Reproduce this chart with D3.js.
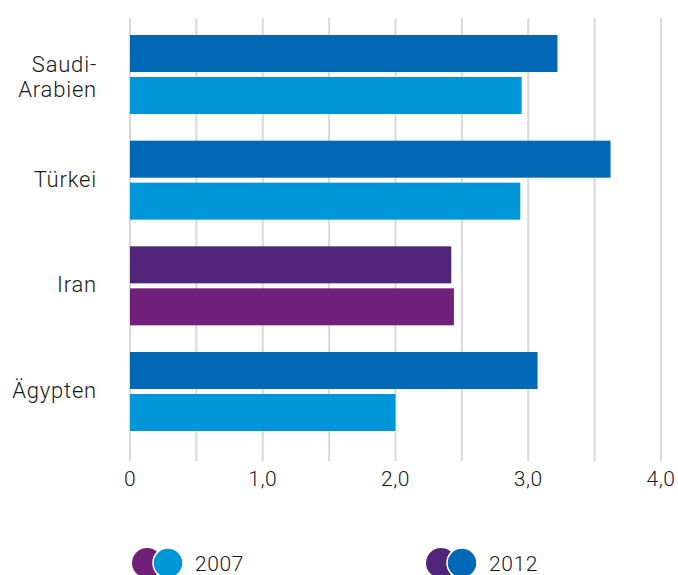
<!DOCTYPE html>
<html>
<head>
<meta charset="utf-8">
<script src="https://cdn.jsdelivr.net/npm/d3@7"></script>
<style>
	body { margin: 0; background: #fff; }
	text { font-family: Roboto, "Open Sans", sans-serif; font-weight: 300; fill: #1a1a1a; }
</style>
</head>
<body>
<div id="chart"></div>
<script>
// data
const categories = ["Saudi-Arabien", "Türkei", "Iran", "Ägypten"];
const categoryLines = [["Saudi-", "Arabien"], ["Türkei"], ["Iran"], ["Ägypten"]];
const values2012 = [3.22, 3.62, 2.42, 3.07];
const values2007 = [2.95, 2.94, 2.44, 2.0];
const xTicks = [0, 1, 2, 3, 4];
const gridTicks = [0, 0.5, 1, 1.5, 2, 2.5, 3, 3.5, 4];
const seriesNames = ["2007", "2012"];

const colors = {
	"2012": "#0068b4",
	"2007": "#0096d8",
	"2012_iran": "#4f2479",
	"2007_iran": "#72217a",
};

const width = 678;
const height = 575;

const svg = d3.select("#chart")
	.append("svg")
	.attr("width", width)
	.attr("height", height);

const x = d3.scaleLinear().domain([0, 4]).range([130, 661]);
const y = d3.scaleBand().domain(categories).range([35, 431]).paddingInner(0.2526).paddingOuter(0);
const ySub = d3.scaleBand().domain(["2012", "2007"]).range([0, y.bandwidth()]).paddingInner(0.119);

// grid
svg.append("g")
	.selectAll("line")
	.data(gridTicks)
	.join("line")
	.attr("x1", (d) => x(d))
	.attr("x2", (d) => x(d))
	.attr("y1", 18)
	.attr("y2", 461)
	.attr("stroke", "#d9d9d9")
	.attr("stroke-width", 2);

// bars
const rows = categories.map((c, i) => ({
	cat: c,
	lines: categoryLines[i],
	bars: [
		{ key: "2012", v: values2012[i] },
		{ key: "2007", v: values2007[i] },
	],
}));

const groups = svg.append("g")
	.selectAll("g")
	.data(rows)
	.join("g")
	.attr("transform", (d) => "translate(0," + y(d.cat) + ")");

groups.selectAll("rect")
	.data((d) => d.bars.map((b) => ({ ...b, cat: d.cat })))
	.join("rect")
	.attr("x", x(0))
	.attr("y", (d) => ySub(d.key))
	.attr("width", (d) => x(d.v) - x(0))
	.attr("height", ySub.bandwidth())
	.attr("fill", (d) => (d.cat == "Iran" ? colors[d.key + "_iran"] : colors[d.key]));

// category labels
groups.append("text")
	.attr("text-anchor", "end")
	.style("font-size", "22px")
	.style("letter-spacing", "0.8px")
	.each(function (d) {
		const t = d3.select(this);
		const n = d.lines.length;
		const mid = y.bandwidth() / 2;
		d.lines.forEach((line, k) => {
			t.append("tspan")
				.attr("x", 97)
				.attr("y", n == 1 ? mid + 6.5 : mid - 2.5 + k * 25)
				.text(line);
		});
	});

// x axis labels
svg.append("g")
	.selectAll("text")
	.data(xTicks)
	.join("text")
	.attr("x", (d) => x(d))
	.attr("y", 486)
	.attr("text-anchor", "middle")
	.style("font-size", "21px")
	.style("letter-spacing", "0.6px")
	.text((d) => (d == 0 ? "0" : d3.format(".1f")(d).replace(".", ",")));

// legend
const legend = svg.append("g")
	.selectAll("g")
	.data(seriesNames)
	.join("g")
	.attr("transform", (d, i) => "translate(" + (147 + i * 294) + ",563)");

legend.append("circle")
	.attr("cx", 0)
	.attr("r", 15)
	.attr("fill", (d) => colors[d + "_iran"]);

legend.append("circle")
	.attr("cx", 21)
	.attr("r", 15)
	.attr("fill", (d) => colors[d])
	.attr("stroke", "#fff")
	.attr("stroke-width", 1.5);

legend.append("text")
	.attr("x", 48)
	.attr("y", 8)
	.style("font-size", "21px")
	.style("letter-spacing", "0.6px")
	.text((d) => d);
</script>
</body>
</html>
